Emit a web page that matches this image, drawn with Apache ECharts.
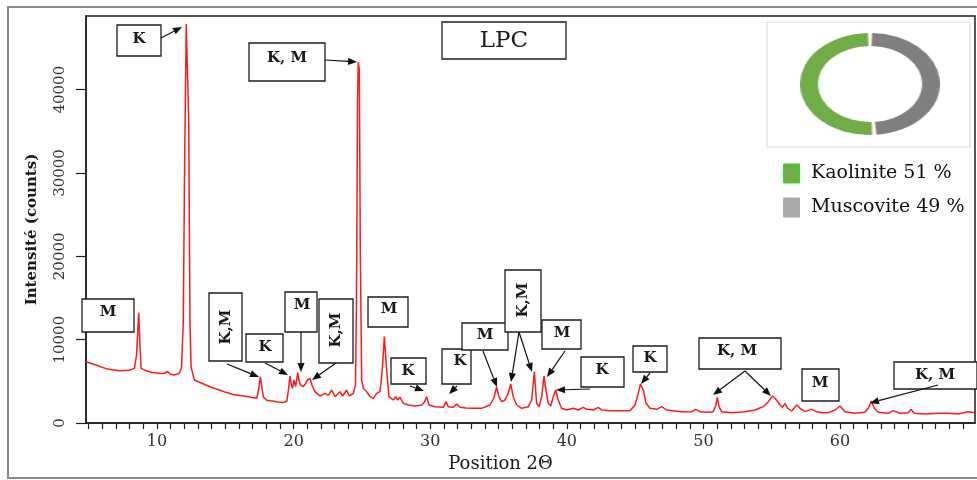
<!DOCTYPE html>
<html>
<head>
<meta charset="utf-8">
<script src="https://cdn.jsdelivr.net/npm/echarts@6/dist/echarts.min.js"></script>
<style>
  html, body { margin: 0; padding: 0; background: #fff; }
  #wrap { position: relative; width: 977px; height: 480px; overflow: hidden; }
  #xrd { position: absolute; left: 0; top: 0; width: 977px; height: 480px; }
  #donut { position: absolute; left: 819px; top: 33px; width: 102px; height: 102px;
           transform: scaleX(1.3725); transform-origin: 50% 50%; }
</style>
</head>
<body>
<div id="wrap">
  <div id="xrd"></div>
  <div id="donut"></div>
</div>
<script>
// Diffraction pattern of sample LPC: position 2θ (degrees) and intensity (counts)
const twoTheta = [
  4.80, 5.53, 6.26, 7.24, 7.97, 8.34, 8.50, 8.66, 8.75, 8.83,
  9.19, 9.63, 10.17, 10.51, 10.78, 10.95, 11.26, 11.63, 11.79, 11.92,
  12.03, 12.14, 12.23, 12.32, 12.41, 12.49, 12.73, 13.15, 13.58, 14.02,
  14.56, 15.05, 15.56, 16.07, 16.59, 16.95, 17.30, 17.43, 17.56, 17.68,
  17.78, 18.03, 18.42, 18.86, 19.24, 19.51, 19.62, 19.73, 19.84, 19.92,
  20.03, 20.15, 20.30, 20.39, 20.50, 20.71, 20.90, 21.01, 21.20, 21.34,
  21.56, 21.93, 22.30, 22.54, 22.79, 23.03, 23.39, 23.59, 23.88, 24.07,
  24.37, 24.53, 24.60, 24.68, 24.73, 24.81, 24.88, 24.98, 25.10, 25.35,
  25.59, 25.83, 26.08, 26.32, 26.49, 26.64, 26.81, 26.98, 27.12, 27.29,
  27.47, 27.62, 27.79, 28.03, 28.39, 28.88, 29.38, 29.58, 29.74, 29.91,
  30.35, 30.96, 31.15, 31.32, 31.69, 31.94, 32.18, 32.62, 33.03, 33.76,
  34.37, 34.66, 34.86, 35.03, 35.23, 35.47, 35.71, 35.89, 36.08, 36.33,
  36.69, 37.18, 37.43, 37.62, 37.79, 37.98, 38.16, 38.33, 38.47, 38.64,
  38.82, 39.01, 39.18, 39.37, 39.62, 39.99, 40.47, 40.84, 41.20, 41.45,
  41.94, 42.30, 42.55, 43.16, 43.89, 44.62, 44.99, 45.23, 45.39, 45.60,
  45.80, 46.09, 46.58, 46.95, 47.31, 47.79, 48.53, 49.14, 49.43, 49.75,
  50.24, 50.72, 50.90, 51.01, 51.14, 51.34, 52.07, 53.04, 53.77, 54.38,
  54.75, 55.06, 55.31, 55.61, 55.77, 55.97, 56.17, 56.46, 56.83, 57.07,
  57.44, 57.92, 58.29, 58.68, 59.15, 59.63, 60.00, 60.36, 61.09, 61.82,
  62.08, 62.29, 62.51, 62.80, 63.53, 63.90, 64.39, 65.00, 65.19, 65.43,
  66.22, 67.19, 67.92, 68.66, 69.39, 69.88
];
const intensity = [
  7360, 6960, 6520, 6280, 6320, 6560, 8160, 13240, 9360, 6560,
  6280, 6060, 5960, 5940, 6180, 5880, 5760, 5960, 6600, 12000,
  32760, 47880, 47960, 36360, 12360, 6760, 5160, 4860, 4560, 4260,
  3960, 3680, 3420, 3300, 3180, 3060, 2960, 3960, 5560, 4200,
  3160, 2720, 2640, 2520, 2460, 2640, 3960, 5640, 4560, 4160,
  5160, 4360, 6040, 5160, 4560, 4360, 4800, 5160, 5360, 4560,
  3760, 3240, 3560, 3320, 3960, 3160, 3760, 3240, 3960, 3240,
  3560, 4560, 14760, 38760, 43320, 42360, 20760, 5160, 4160, 3760,
  3160, 2960, 3560, 3760, 6360, 10360, 6360, 3160, 3000, 2760,
  3160, 2760, 3080, 2360, 2160, 2040, 2160, 2520, 3160, 2160,
  1960, 1880, 2560, 1960, 1880, 2280, 1880, 1800, 1760, 1760,
  2160, 3000, 4320, 3160, 2560, 2760, 3560, 4680, 3160, 2160,
  1760, 1960, 2760, 6160, 2360, 1960, 3160, 5640, 3960, 2360,
  2040, 3160, 3960, 2760, 1760, 1560, 1760, 1560, 1880, 1640,
  1560, 1880, 1560, 1480, 1480, 1480, 2160, 3560, 4680, 3960,
  2360, 1760, 1640, 1960, 1560, 1480, 1320, 1360, 1640, 1360,
  1280, 1360, 2040, 3080, 1960, 1360, 1240, 1360, 1560, 1960,
  2560, 3240, 2840, 2160, 1880, 2360, 1760, 1440, 2160, 1760,
  1360, 1640, 1360, 1240, 1240, 1560, 2040, 1360, 1160, 1280,
  1800, 2640, 1760, 1280, 1160, 1480, 1160, 1240, 1640, 1160,
  1080, 1160, 1160, 1080, 1360, 1240
];

// Axis tick labels
const xTickLabels = [10, 20, 30, 40, 50, 60];
const yTickLabels = [0, 10000, 20000, 30000, 40000];

// Mineral composition shown in the inset ring
const phaseNames = ['Kaolinite', 'Muscovite'];
const phaseShares = [51, 49];
const phaseColors = ['#70AD47', '#7F7F7F'];
const phaseKeyColors = ['#70AD47', '#AAAAAA'];
const phaseKeyBorders = ['#22E022', '#AAAAAA'];

const FONT = '"DejaVu Serif", "Liberation Serif", serif';

// Peak-identification callouts (box in page pixels, optional arrows)
const callouts = [
  { text: 'K', box: [117, 25, 161, 56], at: [139, 39], arrows: [[161, 38, 182, 27]] },
  { text: 'K, M', box: [249, 43, 325, 81], at: [287, 58], arrows: [[325, 60, 357, 62]] },
  { text: 'M', box: [82, 299, 134, 332], at: [108, 312], arrows: [] },
  { text: 'K,M', box: [209, 293, 242, 361], at: [226, 327], vertical: true, arrows: [[227, 364, 259, 377]] },
  { text: 'K', box: [246, 334, 283, 362], at: [265, 347], arrows: [[265, 363, 288, 375]] },
  { text: 'M', box: [285, 292, 317, 332], at: [302, 305], arrows: [[301, 332, 301, 372]] },
  { text: 'K,M', box: [319, 299, 353, 363], at: [336, 330], vertical: true, arrows: [[336, 363, 312, 380]] },
  { text: 'M', box: [368, 297, 408, 327], at: [389, 309], arrows: [] },
  { text: 'K', box: [391, 358, 426, 384], at: [408, 371], arrows: [[410, 386, 424, 391]] },
  { text: 'K', box: [442, 349, 471, 384], at: [460, 361], arrows: [[457, 386, 449, 394]] },
  { text: 'M', box: [462, 323, 508, 350], at: [485, 335], arrows: [[483, 351, 497, 387]] },
  { text: 'K,M', box: [505, 270, 541, 332], at: [523, 300], vertical: true,
    arrows: [[519, 332, 511, 382], [519, 332, 532, 372]] },
  { text: 'M', box: [542, 320, 581, 349], at: [562, 333], arrows: [[565, 351, 547, 377]] },
  { text: 'K', box: [581, 357, 624, 387], at: [602, 370], arrows: [[590, 389, 556, 390]] },
  { text: 'K', box: [633, 346, 667, 372], at: [650, 358], arrows: [[650, 373, 641, 384]] },
  { text: 'K, M', box: [699, 338, 781, 369], at: [737, 351], arrows: [[745, 371, 713, 395], [745, 371, 771, 396]] },
  { text: 'M', box: [802, 369, 839, 401], at: [820, 383], arrows: [] },
  { text: 'K, M', box: [894, 362, 977, 389], at: [935, 375], arrows: [[938, 385, 870, 403]] }
];

function arrowParts(x1, y1, x2, y2) {
  const dx = x2 - x1, dy = y2 - y1, len = Math.hypot(dx, dy);
  const ux = dx / len, uy = dy / len, hl = 9, hw = 3.6;
  const bx = x2 - ux * hl, by = y2 - uy * hl;
  return [
    { type: 'line', z: 20, silent: true,
      shape: { x1: x1, y1: y1, x2: bx, y2: by },
      style: { stroke: '#111', lineWidth: 1.2 } },
    { type: 'polygon', z: 20, silent: true,
      shape: { points: [[x2, y2], [bx - uy * hw, by + ux * hw], [bx + uy * hw, by - ux * hw]] },
      style: { fill: '#111' } }
  ];
}

function calloutParts(c) {
  const [x1, y1, x2, y2] = c.box;
  const parts = [
    { type: 'rect', z: 15, silent: true,
      shape: { x: x1, y: y1, width: x2 - x1, height: y2 - y1 },
      style: { fill: '#fff', stroke: '#1e1e1e', lineWidth: 1.3 } },
    { type: 'text', z: 16, silent: true, x: c.at[0], y: c.at[1],
      rotation: c.vertical ? Math.PI / 2 : 0,
      style: { text: c.text, font: 'bold 15px ' + FONT, fill: '#1a1a1a',
               align: 'center', verticalAlign: 'middle',
               textAlign: 'center', textVerticalAlign: 'middle' } }
  ];
  c.arrows.forEach(a => parts.push(...arrowParts(a[0], a[1], a[2], a[3])));
  return parts;
}

const graphics = [];
// outer figure frame
graphics.push({ type: 'rect', z: 1, silent: true,
  shape: { x: 8, y: 7, width: 990, height: 471 },
  style: { fill: 'none', stroke: '#8a8a8a', lineWidth: 2 } });
// sample title
graphics.push({ type: 'rect', z: 15, silent: true,
  shape: { x: 442, y: 22, width: 124, height: 37 },
  style: { fill: '#fff', stroke: '#1e1e1e', lineWidth: 1.3 } });
graphics.push({ type: 'text', z: 16, silent: true, x: 504, y: 41,
  style: { text: 'LPC', font: '23px ' + FONT, fill: '#1a1a1a',
           align: 'center', verticalAlign: 'middle', textAlign: 'center', textVerticalAlign: 'middle' } });
// inset panel
graphics.push({ type: 'rect', z: 5, silent: true,
  shape: { x: 767, y: 22, width: 203, height: 125 },
  style: { fill: '#fff', stroke: '#d9d9d9', lineWidth: 1 } });
// inset key
phaseNames.forEach((name, i) => {
  const top = 164 + i * 34;
  graphics.push({ type: 'rect', z: 16, silent: true,
    shape: { x: 783.5, y: top, width: 16, height: 19 },
    style: { fill: phaseKeyColors[i], stroke: phaseKeyBorders[i], lineWidth: 1 } });
  graphics.push({ type: 'text', z: 16, silent: true, x: 811, y: top + 9.5,
    style: { text: name + ' ' + phaseShares[i] + ' %', font: '19px ' + FONT, fill: '#111',
             align: 'left', verticalAlign: 'middle', textAlign: 'left', textVerticalAlign: 'middle' } });
});
callouts.forEach(c => graphics.push(...calloutParts(c)));

const minorTicks = [];
for (let v = 5; v <= 69; v++) minorTicks.push(v);

const chart = echarts.init(document.getElementById('xrd'), null, { renderer: 'canvas' });
chart.setOption({
  animation: false,
  backgroundColor: '#fff',
  grid: { left: 86, right: 2, top: 16, bottom: 57, show: true,
          borderColor: '#1e1e1e', borderWidth: 1.5, backgroundColor: 'transparent' },
  xAxis: {
    type: 'value', min: 4.8, max: 69.88,
    name: 'Position 2\u0398', nameLocation: 'middle', nameGap: 23,
    nameTextStyle: { fontFamily: FONT, fontSize: 18, color: '#1a1a1a', padding: [0, 60, 0, 0] },
    axisLine: { show: true, onZero: false, lineStyle: { color: '#1e1e1e', width: 1.5 } },
    axisTick: { show: true, inside: false, length: 6, customValues: minorTicks,
                lineStyle: { color: '#1e1e1e', width: 1.2 } },
    axisLabel: { customValues: xTickLabels, margin: 11, fontFamily: FONT, fontSize: 16, color: '#333' },
    splitLine: { show: false }
  },
  yAxis: {
    type: 'value', min: 0, max: 48840,
    name: 'Intensit\u00e9 (counts)', nameLocation: 'middle', nameGap: 46,
    nameTextStyle: { fontFamily: FONT, fontSize: 15, fontWeight: 'bold', color: '#1a1a1a', padding: [0, 20, 0, 0] },
    axisLine: { show: true, lineStyle: { color: '#1e1e1e', width: 1.5 } },
    axisTick: { show: true, inside: false, length: 10, customValues: yTickLabels,
                lineStyle: { color: '#1e1e1e', width: 1.2 } },
    axisLabel: { customValues: yTickLabels, rotate: 90, margin: 18, fontFamily: FONT, fontSize: 15,
                 color: '#333', formatter: v => String(v) },
    splitLine: { show: false }
  },
  series: [{
    type: 'line',
    data: twoTheta.map((t, i) => [t, intensity[i]]),
    showSymbol: false, symbol: 'none', smooth: false,
    lineStyle: { color: '#ff1a1a', width: 1.5 },
    z: 3, silent: true
  }],
  graphic: graphics
});

// Composition ring (stretched horizontally by its container)
const donut = echarts.init(document.getElementById('donut'), null, { renderer: 'canvas' });
donut.setOption({
  animation: false,
  series: [{
    type: 'pie', radius: [38, 51], center: ['50%', '50%'],
    startAngle: 90, clockwise: false, padAngle: 3.5,
    label: { show: false }, labelLine: { show: false }, silent: true,
    data: phaseNames.map((n, i) => ({ name: n, value: phaseShares[i], itemStyle: { color: phaseColors[i] } }))
  }]
});
</script>
</body>
</html>
